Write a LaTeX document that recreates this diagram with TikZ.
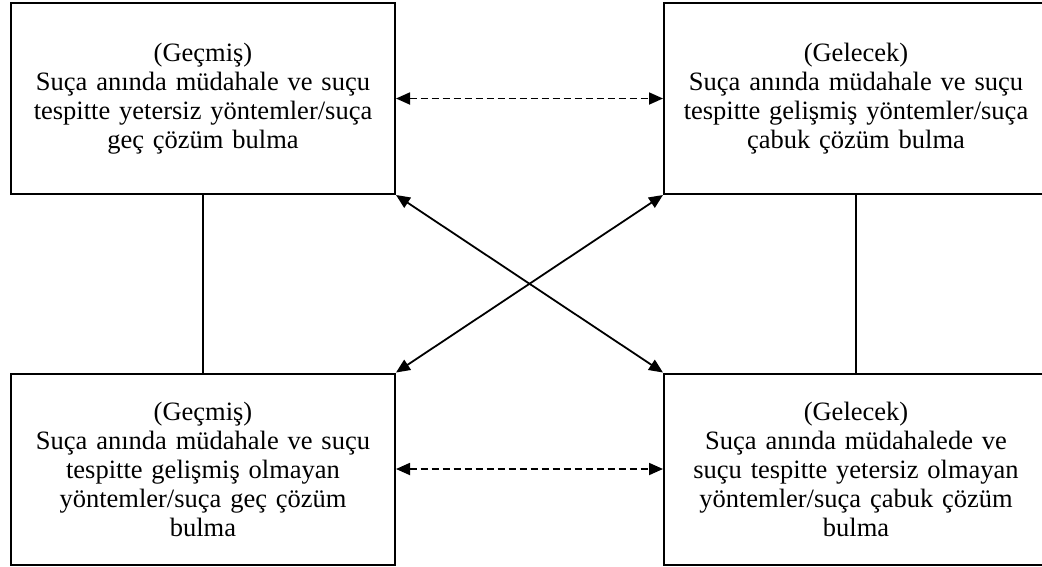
\documentclass[tikz,border=0pt]{standalone}
\usepackage{fontspec}
\setmainfont{Liberation Serif}
\usetikzlibrary{arrows.meta}
\begin{document}
\begin{tikzpicture}[x=1pt,y=-1pt,
  panel/.style={draw, line width=2pt, minimum width=384pt, minimum height=191pt,
    text width=370pt, align=center, inner sep=0pt,
    font=\fontsize{26.5}{29}\selectfont},
  link/.style={line width=1.8pt},
  twoway/.style={link, {Triangle[length=14pt,width=12pt]}-{Triangle[length=14pt,width=12pt]}},
  dashlink/.style={twoway, dash pattern=on 7pt off 4pt}]
\useasboundingbox (0,0) rectangle (1042,566);
\node[panel] (tl) at (203,98.5) {(Geçmiş)\\Suça anında müdahale ve suçu\\tespitte yetersiz yöntemler/suça\\geç çözüm bulma};
\node[panel] (tr) at (856,98.5) {(Gelecek)\\Suça anında müdahale ve suçu\\tespitte gelişmiş yöntemler/suça\\çabuk çözüm bulma};
\node[panel] (bl) at (203,469) {(Geçmiş)\\Suça anında müdahale ve suçu\\tespitte gelişmiş olmayan\\yöntemler/suça geç çözüm\\bulma};
\node[panel] (br) at (856,469) {(Gelecek)\\Suça anında müdahalede ve\\suçu tespitte yetersiz olmayan\\yöntemler/suça çabuk çözüm\\bulma};
% vertical links
\draw[link] (tl.south) -- (bl.north);
\draw[link] (tr.south) -- (br.north);
% horizontal dashed two-way arrows
\draw[dashlink] (tl.east) -- (tr.west);
\draw[dashlink] (bl.east) -- (br.west);
% crossing diagonals
\draw[twoway] (tl.south east) -- (br.north west);
\draw[twoway] (tr.south west) -- (bl.north east);
\end{tikzpicture}
\end{document}
